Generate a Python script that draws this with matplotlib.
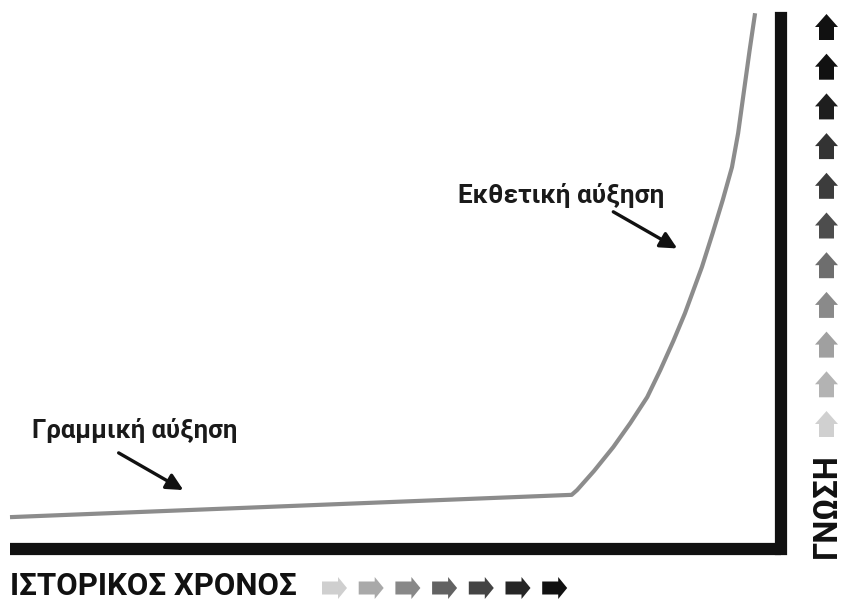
import matplotlib
matplotlib.use('Agg')
import matplotlib.pyplot as plt
from matplotlib.patches import FancyArrow

plt.rcParams['font.family'] = ['Roboto', 'DejaVu Sans']

# curve: time (0-100) vs knowledge (0-100)
time_pts = [0.0, 72.9, 73.6, 75.8, 78.3, 80.5, 82.7, 84.4, 86.1, 87.6,
            89.8, 91.2, 92.5, 93.7, 94.5, 95.1, 96.0, 96.7]
knowledge = [6.0, 10.2, 11.1, 14.7, 19.2, 23.7, 28.6, 33.7, 39.2, 44.4,
             53.1, 59.5, 65.7, 71.9, 78.3, 84.6, 94.0, 100.9]

label_linear = "Γραμμική αύξηση"
label_exp = "Εκθετική αύξηση"
xlabel = "ΙΣΤΟΡΙΚΟΣ ΧΡΟΝΟΣ"
ylabel = "ΓΝΩΣΗ"

# shades of the little arrows next to the axis titles
x_arrow_colors = ['#cfcfcf', '#a9a9a9', '#888888', '#626262', '#444444', '#262626', '#111111']
y_arrow_colors = ['#d0d0d0', '#b3b3b3', '#a0a0a0', '#8a8a8a', '#6e6e6e', '#4d4d4d',
                  '#3c3c3c', '#333333', '#1e1e1e', '#111111', '#111111']

W, H = 842, 600
fig = plt.figure(figsize=(W / 100, H / 100), dpi=100)

# main chart axes
ax = fig.add_axes([10 / W, (H - 549) / H, 770.5 / W, 531 / H])
ax.set_xlim(0, 100)
ax.set_ylim(0, 100)
ax.plot(time_pts, knowledge, color='#8c8c8c', lw=3.0, clip_on=False,
        solid_joinstyle='round', solid_capstyle='butt')

for side in ['top', 'left']:
    ax.spines[side].set_visible(False)
for side in ['bottom', 'right']:
    ax.spines[side].set_linewidth(8.8)
    ax.spines[side].set_color('#111111')
ax.spines['bottom'].set_capstyle('butt')
ax.spines['right'].set_capstyle('projecting')
ax.set_xticks([])
ax.set_yticks([])

# annotations
arrow_style = dict(arrowstyle='-|>,head_length=1.0,head_width=0.5', lw=2.4, color='#111111',
                   shrinkA=0, shrinkB=0)
ax.annotate(label_linear, xy=(0, 0), xytext=(2.9, 20.9), textcoords='data',
            fontsize=18.5, fontweight='bold', color='#1a1a1a', ha='left', va='baseline',
            annotation_clip=False)
ax.annotate('', xy=(22.5, 11.1), xytext=(14.1, 18.1), arrowprops=arrow_style)
ax.annotate(label_exp, xy=(0, 0), xytext=(58.1, 65.2), textcoords='data',
            fontsize=18.8, fontweight='bold', color='#1a1a1a', ha='left', va='baseline',
            annotation_clip=False)
ax.annotate('', xy=(86.6, 56.6), xytext=(78.3, 63.5), arrowprops=arrow_style)

# overlay in pixel units for the axis titles and arrow strips
deco = fig.add_axes([0, 0, 1, 1], facecolor='none')
deco.set_xlim(0, W)
deco.set_ylim(H, 0)
deco.axis('off')

deco.text(10, 595, xlabel, fontsize=22.5, fontweight='bold', color='#111111',
          ha='left', va='baseline')
deco.text(826.5, 506, ylabel, fontsize=23.5, fontweight='bold', color='#111111',
          rotation=90, ha='center', va='center')

for i, c in enumerate(x_arrow_colors):
    x0 = 322 + i * 36.7
    deco.add_patch(FancyArrow(x0, 588, 25, 0, width=13, head_width=22, head_length=9,
                              length_includes_head=True, color=c, lw=0))

for i, c in enumerate(y_arrow_colors):
    y0 = 437 - i * 39.7
    deco.add_patch(FancyArrow(826.5, y0, 0, -26, width=15, head_width=23, head_length=13,
                              length_includes_head=True, color=c, lw=0))

fig.savefig('out.png', dpi=100)
